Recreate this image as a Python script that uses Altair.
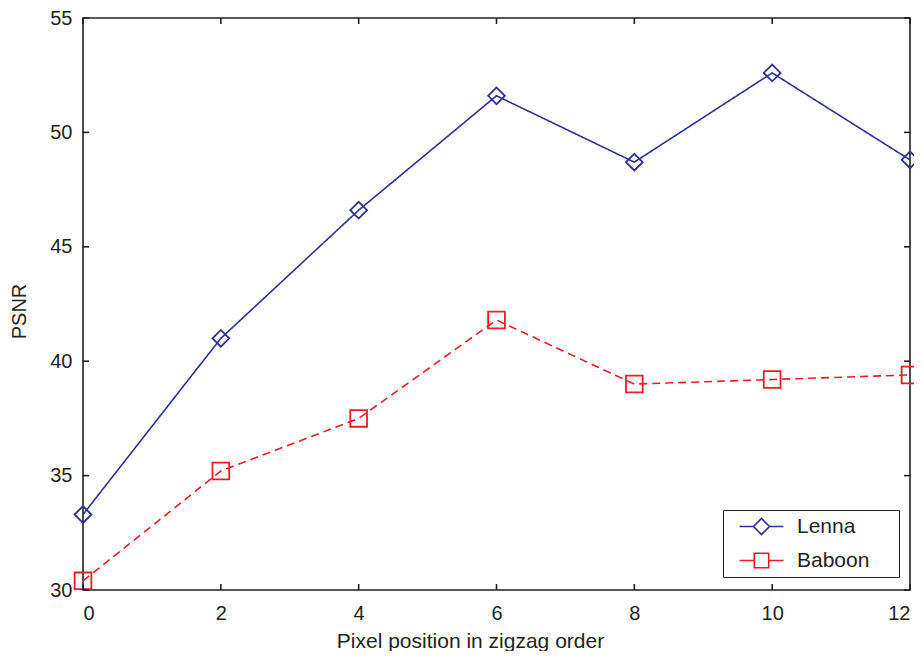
import altair as alt
import pandas as pd

x_pos = [0, 2, 4, 6, 8, 10, 12]
lenna = [33.3, 41.0, 46.6, 51.6, 48.7, 52.6, 48.8]
baboon = [30.4, 35.2, 37.5, 41.8, 39.0, 39.2, 39.4]
series = ["Lenna", "Baboon"]
colors = ["#2E3192", "#ED1C24"]
x_ticks = [0, 2, 4, 6, 8, 10, 12]
y_ticks = [30, 35, 40, 45, 50, 55]

df = pd.DataFrame({
    "x": x_pos * 2,
    "psnr": lenna + baboon,
    "series": ["Lenna"] * len(lenna) + ["Baboon"] * len(baboon),
})
xt = pd.DataFrame({"t": x_ticks})
yt = pd.DataFrame({"t": y_ticks})

FONT = "Liberation Sans"
INK = "#231F20"
W, H = 827, 572
PAD = "\u00a0\u00a0\u00a0\u00a0\u200b"  # trailing space inside the legend box

xs = alt.Scale(domain=[0, 12], nice=False, zero=False)
ys = alt.Scale(domain=[30, 55], nice=False, zero=False)
xaxis = alt.Axis(values=x_ticks, format="d", title="Pixel position in zigzag order", grid=False,
                 domain=False, ticks=False, tickSize=0, labelPadding=13, titlePadding=7,
                 titleX=387, labelFontSize=20, titleFontSize=21)
yaxis = alt.Axis(values=y_ticks, format="d", title="PSNR", grid=False, domain=False, ticks=False,
                 tickSize=0, labelPadding=11, titlePadding=20, titleY=293,
                 labelFontSize=20, titleFontSize=20)

X = alt.X("x:Q", scale=xs, axis=xaxis)
Y = alt.Y("psnr:Q", scale=ys, axis=yaxis)

layers = []
shapes = ["diamond", "square"]
dashes = [[1, 0], [8, 5]]
for s, c, sh, d in zip(series, colors, shapes, dashes):
    sub = alt.Chart(df).transform_filter(alt.datum.series == s)
    layers.append(sub.mark_line(color=c, strokeWidth=1.6, strokeDash=d).encode(x=X, y=Y))
    layers.append(sub.mark_point(color=c, shape=sh, size=280, filled=False,
                                 strokeWidth=1.8, opacity=1).encode(x=X, y=Y))

# inward tick marks on all four sides
tx = 6 / W * 12
ty = 6 / H * 25
TX = alt.X("t:Q", scale=xs, axis=xaxis)
TY = alt.Y("t:Q", scale=ys, axis=yaxis)
tick_style = dict(color=INK, strokeWidth=1.6)
layers.append(alt.Chart(xt).mark_rule(**tick_style).encode(x=TX, y=alt.datum(30), y2=alt.datum(30 + ty)))
layers.append(alt.Chart(xt).mark_rule(**tick_style).encode(x=TX, y=alt.datum(55), y2=alt.datum(55 - ty)))
layers.append(alt.Chart(yt).mark_rule(**tick_style).encode(y=TY, x=alt.datum(0), x2=alt.datum(tx)))
layers.append(alt.Chart(yt).mark_rule(**tick_style).encode(y=TY, x=alt.datum(12), x2=alt.datum(12 - tx)))

# legend: symbol = short line with marker; path in units of r = 8 px
p_diamond = "M0,0H1.75M3.75,0H5.5M2.75,-1L3.75,0L2.75,1L1.75,0Z"
p_square = "M0,0H1.85M3.65,0H5.5M1.85,-0.9H3.65V0.9H1.85Z"
leg_labels = [s + PAD for s in series]
leg_cfg = dict(title=None, orient="none", legendX=640, legendY=492, padding=6,
               strokeColor=INK, fillColor="white", symbolSize=256, symbolStrokeWidth=1.6,
               symbolOpacity=1,
               labelFont=FONT, labelFontSize=21, labelColor=INK, labelOffset=47, rowPadding=11)
legend_layer = alt.Chart(df).transform_filter("false").mark_point(filled=False, opacity=1).encode(
    color=alt.Color("series:N", scale=alt.Scale(domain=leg_labels, range=colors),
                    legend=alt.Legend(**leg_cfg)),
    shape=alt.Shape("series:N", scale=alt.Scale(domain=leg_labels, range=[p_diamond, p_square]),
                    legend=alt.Legend(**leg_cfg)),
)
layers.append(legend_layer)

chart = alt.layer(*layers).properties(
    width=W, height=H,
    background="white",
    autosize=alt.AutoSizeParams(type="none"),
    padding={"left": 75, "top": 10, "right": 4, "bottom": 61},
).configure_view(stroke=INK, strokeWidth=1.6).configure_axis(
    labelFont=FONT, labelColor=INK, titleFont=FONT,
    titleColor=INK, titleFontWeight="normal",
)

chart.save("out.html", embed_options={"renderer": "svg", "actions": False})
